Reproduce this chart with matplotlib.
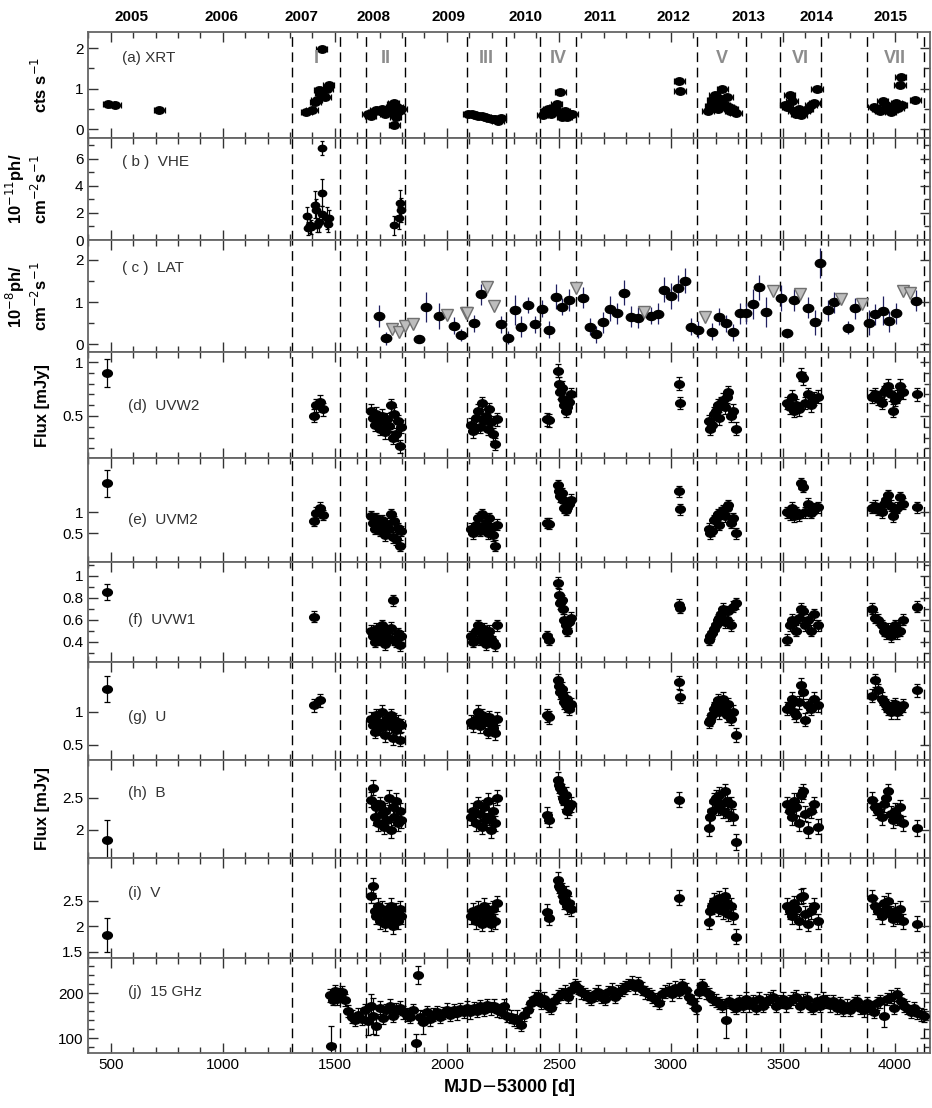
import numpy as np
import matplotlib.pyplot as plt
from matplotlib.path import Path
from matplotlib.transforms import Affine2D
from matplotlib.ticker import MultipleLocator, FixedLocator, FormatStrFormatter

plt.rcParams['font.family'] = ['Liberation Sans', 'DejaVu Sans']

nan = np.nan

# observing periods (MJD-53000)
periods = [(1310, 1524), (1640, 1814), (2092, 2263), (2416, 2577),
           (3117, 3334), (3488, 3669), (3874, 4127)]
period_names = ['I', 'II', 'III', 'IV', 'V', 'VI', 'VII']

years = ['2005', '2006', '2007', '2008', '2009', '2010',
         '2011', '2012', '2013', '2014', '2015']
year_pos = [595, 996, 1353, 1671, 2006, 2350, 2684, 3010, 3345, 3651, 3981]

# (a) Swift-XRT count rate
xrt_t = [490, 520, 716,
         1372, 1398, 1413, 1420, 1430, 1435, 1442, 1457, 1465, 1472,
         1648, 1660, 1672, 1684, 1700, 1712, 1725, 1740, 1752, 1758, 1762, 1765, 1768, 1772, 1778, 1785, 1795,
         2095, 2110, 2125, 2140, 2155, 2170, 2185, 2200, 2215, 2228, 2240,
         2428, 2440, 2452, 2465, 2480, 2490, 2500, 2506, 2515, 2525, 2535, 2548, 2560,
         3037, 3040,
         3165, 3175, 3185, 3195, 3205, 3212, 3222, 3230, 3240, 3250, 3258, 3265, 3275, 3290,
         3510, 3520, 3530, 3540, 3548, 3560, 3570, 3580, 3595, 3610, 3625, 3640, 3652,
         3905, 3920, 3935, 3945, 3960, 3970, 3980, 3990, 4005, 4015, 4022, 4025, 4030, 4090]
xrt_rate = [0.61, 0.60, 0.47,
            0.42, 0.48, 0.66, 0.72, 0.96, 0.88, 1.99, 0.80, 1.00, 1.10,
            0.38, 0.33, 0.42, 0.47, 0.45, 0.50, 0.38, 0.42, 0.55, 0.62, 0.65, 0.10, 0.48, 0.30, 0.55, 0.45, 0.50,
            0.37, 0.36, 0.35, 0.33, 0.32, 0.30, 0.28, 0.26, 0.25, 0.20, 0.28,
            0.35, 0.45, 0.50, 0.38, 0.55, 0.62, 0.42, 0.92, 0.30, 0.45, 0.30, 0.38, 0.38,
            1.19, 0.95,
            0.45, 0.58, 0.72, 0.85, 0.65, 0.50, 0.75, 1.00, 0.60, 0.80, 0.55, 0.45, 0.50, 0.40,
            0.60, 0.55, 0.85, 0.70, 0.45, 0.38, 0.50, 0.35, 0.45, 0.50, 0.60, 0.65, 0.98,
            0.55, 0.50, 0.45, 0.70, 0.60, 0.55, 0.42, 0.48, 0.65, 0.52, 1.08, 1.29, 0.60, 0.72]

# (b) VHE flux, 1e-11 ph cm-2 s-1
vhe_t = [1378, 1381, 1388, 1395, 1413, 1414, 1420, 1430, 1442, 1443, 1445, 1466, 1470, 1473,
         1762, 1787, 1790, 1795]
vhe_flux = [1.75, 0.85, 1.10, 0.95, 2.60, 2.20, 1.10, 1.30, 3.50, 6.80, 1.90, 1.60, 1.20, 1.60,
            1.10, 1.60, 2.70, 2.20]
vhe_err = [0.7, 0.5, 0.6, 0.5, 1.0, 0.8, 0.5, 0.7, 1.0, 0.5, 0.6, 0.8, 0.6, 0.6,
           0.7, 0.8, 1.0, 0.9]

# (c) Fermi-LAT flux, 1e-8 ph cm-2 s-1
lat_t = [1695, 1728, 1874, 1908, 1967, 2030, 2063, 2122, 2152, 2241, 2275, 2302, 2332, 2364,
         2394, 2424, 2454, 2487, 2516, 2546, 2607, 2637, 2666, 2696, 2726, 2759, 2789, 2821,
         2851, 2911, 2940, 2970, 3000, 3031, 3061, 3090, 3122, 3185, 3215, 3245, 3276, 3306,
         3336, 3366, 3395, 3425, 3491, 3520, 3547, 3610, 3641, 3666, 3700, 3729, 3790, 3822,
         3882, 3911, 3946, 3975, 4005, 4094]
lat_flux = [0.67, 0.14, 0.13, 0.88, 0.67, 0.44, 0.22, 0.50, 1.18, 0.47, 0.16, 0.81, 0.42, 0.93,
            0.47, 0.84, 0.34, 1.13, 0.89, 1.05, 1.10, 0.42, 0.24, 0.52, 0.84, 0.73, 1.22, 0.65,
            0.63, 0.68, 0.72, 1.29, 1.14, 1.33, 1.51, 0.42, 0.34, 0.30, 0.65, 0.50, 0.28, 0.73,
            0.73, 0.95, 1.35, 0.77, 1.10, 0.26, 1.05, 0.87, 0.52, 1.92, 0.81, 0.99, 0.39, 0.85,
            0.51, 0.71, 0.80, 0.55, 0.73, 1.03]
lat_err = [0.25, 0.15, 0.10, 0.35, 0.30, 0.20, 0.15, 0.20, 0.25, 0.20, 0.15, 0.35, 0.25, 0.20,
           0.20, 0.20, 0.20, 0.30, 0.20, 0.25, 0.25, 0.20, 0.20, 0.25, 0.30, 0.25, 0.30, 0.25,
           0.25, 0.20, 0.25, 0.30, 0.30, 0.30, 0.30, 0.20, 0.20, 0.20, 0.20, 0.20, 0.20, 0.25,
           0.25, 0.35, 0.30, 0.35, 0.30, 0.10, 0.25, 0.25, 0.30, 0.35, 0.25, 0.25, 0.15, 0.25,
           0.30, 0.25, 0.35, 0.25, 0.25, 0.25]
lat_ul_t = [1755, 1787, 1814, 1849, 2000, 2086, 2092, 2181, 2211, 2577, 2881, 3153, 3455,
            3577, 3758, 3852, 4035, 4068]
lat_ul = [0.36, 0.28, 0.44, 0.47, 0.69, 0.73, 0.73, 1.36, 0.91, 1.33, 0.76, 0.65, 1.26,
          1.18, 1.07, 0.95, 1.26, 1.21]

# UVOT / optical epochs (MJD-53000); nan marks a filter without data at that epoch
uv_t = [485,
        1405, 1418, 1432, 1448,
        1662, 1670, 1678, 1686, 1694, 1702, 1710, 1718, 1726, 1734, 1742, 1750, 1758, 1766, 1774, 1782, 1790, 1797,
        2108, 2118, 2128, 2138, 2148, 2158, 2166, 2174, 2182, 2190, 2198, 2206, 2214, 2224,
        2448, 2458, 2494, 2500, 2506, 2512, 2518, 2524, 2530, 2538, 2546, 2555,
        3036, 3041,
        3168, 3176, 3184, 3192, 3200, 3208, 3216, 3224, 3232, 3240, 3248, 3256, 3266, 3278, 3292,
        3520, 3530, 3540, 3550, 3560, 3570, 3580, 3590, 3600, 3612, 3625, 3640, 3655,
        3895, 3910, 3925, 3940, 3950, 3960, 3970, 3980, 3990, 4000, 4010, 4020, 4035, 4100]

uvw2 = [0.90,
        0.50, 0.60, 0.63, 0.56,
        0.55, 0.48, 0.42, 0.52, 0.45, 0.38, 0.50, 0.44, 0.35, 0.47, 0.41, 0.60, 0.30, 0.52, 0.33, 0.45, 0.22, 0.40,
        0.42, 0.36, 0.48, 0.55, 0.40, 0.62, 0.45, 0.50, 0.38, 0.56, 0.44, 0.33, 0.24, 0.47,
        0.47, 0.46, 0.92, 0.80, 0.72, 0.76, 0.66, 0.60, 0.55, 0.58, 0.63, 0.70,
        0.80, 0.62,
        0.45, 0.38, 0.42, 0.52, 0.55, 0.60, 0.48, 0.62, 0.65, 0.58, 0.68, 0.72, 0.50, 0.55, 0.38,
        0.62, 0.58, 0.68, 0.55, 0.60, 0.56, 0.88, 0.85, 0.62, 0.70, 0.60, 0.66, 0.68,
        0.68, 0.70, 0.66, 0.62, 0.72, 0.75, 0.78, 0.70, 0.55, 0.65, 0.68, 0.78, 0.72, 0.70]

uvm2 = [1.69,
        0.79, 0.98, 1.10, 0.93,
        0.90, 0.75, 0.60, 0.85, 0.70, 0.55, 0.80, 0.65, 0.45, 0.72, 0.60, 0.95, 0.40, 0.78, 0.35, 0.62, 0.20, 0.55,
        0.60, 0.50, 0.70, 0.85, 0.55, 0.95, 0.65, 0.75, 0.50, 0.85, 0.62, 0.45, 0.20, 0.70,
        0.74, 0.72, 1.64, 1.50, 1.38, 1.45, 1.28, 1.10, 1.05, 1.12, 1.20, 1.30,
        1.50, 1.07,
        0.60, 0.50, 0.55, 0.80, 0.85, 0.95, 0.70, 1.00, 1.05, 0.90, 1.10, 1.17, 0.75, 0.85, 0.50,
        1.00, 0.95, 1.10, 0.90, 1.00, 0.92, 1.69, 1.60, 1.00, 1.20, 0.98, 1.08, 1.12,
        1.10, 1.15, 1.05, 1.00, 1.20, 1.30, 1.40, 1.15, 0.90, 1.05, 1.10, 1.35, 1.20, 1.12]

uvw1 = [0.855,
        0.63, nan, nan, nan,
        0.50, 0.45, 0.40, 0.52, 0.47, 0.42, 0.55, 0.48, 0.38, 0.50, 0.44, 0.53, 0.78, 0.42, 0.40, 0.48, 0.37, 0.45,
        0.45, 0.40, 0.50, 0.55, 0.42, 0.48, 0.52, 0.38, 0.45, 0.50, 0.43, 0.40, 0.37, 0.55,
        0.45, 0.42, 0.94, 0.83, 0.75, 0.78, 0.70, 0.60, 0.55, 0.50, 0.58, 0.62,
        0.74, 0.71,
        0.42, 0.45, 0.48, 0.52, 0.55, 0.60, 0.62, 0.65, 0.70, 0.58, 0.60, 0.68, 0.55, 0.72, 0.75,
        0.42, 0.55, 0.60, 0.58, 0.50, 0.62, 0.70, 0.68, 0.55, 0.60, 0.50, 0.65, 0.55,
        0.70, 0.62, 0.60, 0.55, 0.50, 0.48, 0.52, 0.45, 0.50, 0.55, 0.48, 0.50, 0.60, 0.72]

u_band = [1.35,
          1.10, nan, 1.18, nan,
          0.90, 0.80, 0.70, 0.95, 0.85, 0.75, 1.00, 0.82, 0.65, 0.90, 0.78, 0.95, 0.60, 0.88, 0.72, 0.85, 0.58, 0.80,
          0.85, 0.80, 0.90, 1.00, 0.78, 0.95, 0.85, 0.88, 0.70, 0.92, 0.82, 0.75, 0.68, 0.90,
          0.95, 0.92, 1.48, 1.40, 1.30, 1.35, 1.25, 1.15, 1.10, 1.20, 1.05, 1.12,
          1.45, 1.23,
          0.85, 0.88, 0.95, 1.05, 1.10, 1.18, 1.00, 1.15, 1.20, 1.05, 0.95, 1.12, 0.90, 1.00, 0.65,
          1.05, 1.10, 1.20, 1.00, 0.95, 1.15, 1.41, 1.30, 0.88, 1.10, 1.05, 1.20, 1.10,
          1.25, 1.48, 1.33, 1.20, 1.15, 1.10, 1.05, 1.00, 1.08, 1.12, 1.00, 1.05, 1.10, 1.33]

b_band = [1.84,
          nan, nan, nan, nan,
          2.47, 2.66, 2.20, 2.35, 2.10, 2.40, 2.25, 2.05, 2.30, 2.15, 2.50, 2.00, 2.35, 2.20, 2.45, 2.10, 2.30, 2.15,
          2.20, 2.30, 2.10, 2.40, 2.25, 2.05, 2.35, 2.15, 2.45, 2.20, 2.00, 2.30, 2.10, 2.50,
          2.23, 2.16, 2.78, 2.70, 2.65, 2.60, 2.50, 2.45, 2.55, 2.30, 2.35, 2.40,
          2.47, nan,
          2.03, 2.20, 2.30, 2.45, 2.50, 2.35, 2.55, 2.40, 2.30, 2.60, 2.45, 2.25, 2.40, 2.20, 1.81,
          2.40, 2.30, 2.20, 2.45, 2.35, 2.10, 2.55, 2.60, 2.25, 2.00, 2.30, 2.40, 2.05,
          2.47, 2.35, 2.30, 2.20, 2.40, 2.50, 2.60, 2.25, 2.15, 2.30, 2.20, 2.35, 2.10, 2.03]

v_band = [1.83,
          nan, nan, nan, nan,
          2.60, 2.80, 2.30, 2.20, 2.40, 2.10, 2.35, 2.25, 2.05, 2.30, 2.15, 2.40, 2.00, 2.25, 2.30, 2.10, 2.35, 2.20,
          2.20, 2.30, 2.10, 2.35, 2.25, 2.05, 2.40, 2.15, 2.30, 2.20, 2.05, 2.35, 2.10, 2.45,
          2.28, 2.17, 2.91, 2.80, 2.75, 2.70, 2.60, 2.50, 2.65, 2.40, 2.45, 2.35,
          2.56, nan,
          2.09, 2.30, 2.40, 2.50, 2.45, 2.35, 2.55, 2.40, 2.30, 2.60, 2.45, 2.25, 2.40, 2.20, 1.80,
          2.40, 2.30, 2.20, 2.45, 2.35, 2.10, 2.58, 2.60, 2.25, 2.05, 2.30, 2.40, 2.10,
          2.56, 2.40, 2.30, 2.20, 2.45, 2.35, 2.50, 2.25, 2.15, 2.30, 2.20, 2.35, 2.10, 2.05]

# typical flux errors per filter: (2005 epoch, later epochs)
uv_err = {'uvw2': (0.13, 0.06), 'uvm2': (0.32, 0.13), 'uvw1': (0.07, 0.05),
          'u': (0.20, 0.10), 'b': (0.32, 0.12), 'v': (0.33, 0.15)}

# 15 GHz radio flux
radio_t = [1478, 1485, 1490, 1500, 1510, 1520, 1530, 1545, 1560, 1575, 1590, 1605, 1620, 1635,
           1650, 1660, 1672, 1685, 1700, 1715, 1730, 1745, 1760, 1775, 1790, 1805, 1820, 1835,
           1850, 1862, 1870, 1880, 1895, 1910, 1925, 1940, 1955, 1970, 1985, 2000, 2015, 2030,
           2045, 2060, 2075, 2090, 2105, 2120, 2135, 2150, 2165, 2180, 2195, 2210, 2225, 2240,
           2255, 2270, 2285, 2300, 2315, 2330, 2345, 2360, 2375, 2390, 2405, 2420, 2435, 2450,
           2465, 2480, 2495, 2510, 2525, 2540, 2555, 2570, 2585, 2600, 2615, 2630, 2645, 2660,
           2675, 2690, 2705, 2720, 2735, 2750, 2765, 2780, 2795, 2810, 2825, 2840, 2855, 2870,
           2885, 2900, 2915, 2930, 2945, 2960, 2975, 2990, 3005, 3020, 3035, 3050, 3065, 3080,
           3095, 3110, 3125, 3140, 3155, 3170, 3185, 3200, 3215, 3230, 3245, 3260, 3275, 3290,
           3305, 3320, 3335, 3350, 3365, 3380, 3395, 3410, 3425, 3440, 3455, 3470, 3485, 3500,
           3515, 3530, 3545, 3560, 3575, 3590, 3605, 3620, 3635, 3650, 3665, 3680, 3695, 3710,
           3725, 3740, 3755, 3770, 3785, 3800, 3815, 3830, 3845, 3860, 3875, 3890, 3905, 3920,
           3935, 3950, 3965, 3980, 3995, 4010, 4025, 4040, 4055, 4070, 4085, 4100, 4115, 4130]
radio_flux = [195, 82, 185, 205, 188, 198, 202, 185, 160, 148, 140, 152, 143, 162,
              138, 172, 150, 128, 168, 145, 162, 172, 150, 163, 168, 157, 152, 148,
              162, 90, 240, 148, 135, 158, 142, 152, 158, 147, 156, 163, 152, 162,
              155, 165, 158, 168, 157, 167, 160, 171, 163, 173, 166, 172, 162, 158,
              172, 150, 148, 140, 142, 130, 152, 162, 178, 188, 193, 178, 188, 172,
              168, 183, 192, 198, 203, 192, 208, 218, 212, 202, 198, 192, 188, 197,
              203, 192, 188, 202, 208, 192, 203, 208, 213, 218, 223, 213, 222, 210,
              202, 198, 192, 186, 178, 197, 203, 208, 197, 212, 203, 218, 208, 192,
              182, 168, 203, 218, 202, 198, 188, 183, 178, 172, 140, 182, 172, 168,
              182, 172, 188, 173, 182, 168, 188, 172, 183, 188, 192, 172, 182, 188,
              173, 182, 188, 192, 172, 183, 188, 172, 168, 183, 172, 188, 182, 173,
              182, 168, 177, 163, 172, 163, 177, 182, 168, 162, 177, 168, 158, 177,
              182, 150, 187, 192, 168, 197, 183, 172, 168, 158, 167, 156, 153, 150]
radio_err = [14, 45, 12, 14, 14, 14, 14, 14, 14, 14, 14, 14, 14, 14,
             30, 25, 40, 20, 14, 14, 14, 14, 14, 14, 14, 14, 14, 14,
             14, 20, 20, 14, 25, 14, 14, 14, 14, 14, 14, 14, 14, 14,
             14, 14, 14, 14, 14, 14, 14, 14, 14, 14, 14, 14, 14, 14,
             14, 14, 14, 14, 20, 15, 14, 14, 14, 14, 14, 14, 14, 14,
             14, 14, 14, 14, 14, 14, 14, 14, 14, 14, 14, 14, 14, 14,
             14, 14, 14, 14, 14, 14, 14, 14, 14, 14, 14, 14, 14, 14,
             14, 14, 14, 14, 14, 14, 14, 14, 14, 14, 14, 14, 14, 14,
             14, 14, 14, 14, 14, 14, 14, 14, 14, 14, 40, 14, 14, 14,
             14, 14, 14, 14, 14, 14, 14, 14, 14, 14, 14, 14, 14, 14,
             14, 14, 14, 14, 14, 14, 14, 14, 14, 14, 14, 14, 14, 14,
             14, 14, 14, 14, 14, 14, 14, 14, 14, 14, 14, 14, 14, 14,
             14, 25, 14, 14, 14, 14, 14, 14, 14, 14, 14, 14, 14, 14]

W, H = 932, 1108
X_LEFT, X_RIGHT = 88.3, 930.0
XLIM = (400, 4156)
rows = [(31.7, 138.3), (138.3, 240.0), (240.0, 352.3), (352.3, 458.0), (458.0, 562.0),
        (562.0, 662.0), (662.0, 760.0), (760.0, 858.0), (858.0, 958.0), (958.0, 1053.0)]

ell = Path.unit_circle().transformed(Affine2D().scale(1.3, 1.0))

fig = plt.figure(figsize=(W / 100, H / 100), dpi=100)
axes = []
for i, (top, bot) in enumerate(rows):
    ax = fig.add_axes([X_LEFT / W, 1 - bot / H, (X_RIGHT - X_LEFT) / W, (bot - top) / H])
    ax.set_xlim(*XLIM)
    ax.xaxis.set_major_locator(MultipleLocator(500))
    ax.xaxis.set_minor_locator(MultipleLocator(100))
    ax.yaxis.set_major_formatter(FormatStrFormatter('%g'))
    ax.tick_params(which='both', direction='in', top=True, right=True, labelsize=11,
                   color='#333333', width=1)
    ax.tick_params(which='major', length=7)
    ax.tick_params(which='minor', length=4)
    for s in ax.spines.values():
        s.set_color('#666666')
        s.set_linewidth(1.3)
    for a, b in periods:
        for xv in (a, b):
            ax.axvline(xv, color='k', lw=1.0, ls=(0, (7, 4)), zorder=1)
    if i < len(rows) - 1:
        ax.tick_params(labelbottom=False)
    axes.append(ax)

axa, axb, axc, axd, axe, axf, axg, axh, axi, axj = axes


def dots(ax, t, v, yerr=None, xerr=None, ms=7, cap=2.5):
    ax.errorbar(t, v, yerr=yerr, xerr=xerr, fmt='none', ecolor='k', elinewidth=0.9,
                capsize=cap, capthick=0.9, zorder=2)
    ax.plot(t, v, ls='none', marker=ell, ms=ms, color='k', zorder=3)


def panel_label(ax, text, yfrac, x=551):
    ax.text(x, yfrac, text, transform=ax.get_xaxis_transform(), fontsize=11,
            color='#333333', va='center')


def band_err(key, n):
    first, rest = uv_err[key]
    err = np.full(n, rest)
    err[0] = first
    return err


# (a) XRT
dots(axa, xrt_t, xrt_rate, yerr=0.04, xerr=25)
axa.set_ylim(-0.23, 2.41)
axa.yaxis.set_major_locator(FixedLocator([0, 1, 2]))
axa.yaxis.set_minor_locator(MultipleLocator(0.5))
axa.set_ylabel('cts s$^{-1}$', fontsize=12, fontweight='bold')
panel_label(axa, '(a) XRT', 0.75)
for (a, b), name in zip(periods, period_names):
    axa.text((a + b) / 2, 1.75, name, ha='center', va='center', fontsize=13,
             fontweight='bold', color='#8c8c8c')

# (b) VHE
dots(axb, vhe_t, vhe_flux, yerr=vhe_err, ms=6, cap=1.5)
axb.set_ylim(0, 7.5)
axb.yaxis.set_major_locator(FixedLocator([0, 2, 4, 6]))
axb.yaxis.set_minor_locator(MultipleLocator(1))
axb.set_ylabel('10$^{-11}$ph/\ncm$^{-2}$s$^{-1}$', fontsize=12, fontweight='bold')
panel_label(axb, '( b )  VHE', 0.77)

# (c) LAT with upper limits
axc.errorbar(lat_t, lat_flux, yerr=lat_err, fmt='none', ecolor='#202060', elinewidth=0.9, zorder=2)
axc.plot(lat_t, lat_flux, ls='none', marker=ell, ms=7.5, color='k', zorder=3)
axc.plot(lat_ul_t, lat_ul, ls='none', marker='v', ms=8, mfc='#bdbdbd', mec='#707070',
         mew=1, zorder=3)
axc.set_ylim(-0.19, 2.47)
axc.yaxis.set_major_locator(FixedLocator([0, 1, 2]))
axc.yaxis.set_minor_locator(MultipleLocator(0.5))
axc.set_ylabel('10$^{-8}$ph/\ncm$^{-2}$s$^{-1}$', fontsize=12, fontweight='bold')
panel_label(axc, '( c )  LAT', 0.75)

# (d)-(i) UVOT and optical bands
n_uv = len(uv_t)
bands = [
    (axd, uvw2, 'uvw2', (0.11, 1.09), [0.5, 1], 0.1, '(d)  UVW2', 0.49),
    (axe, uvm2, 'uvm2', (-0.19, 2.29), [0.5, 1], None, '(e)  UVM2', 0.40),
    (axf, uvw1, 'uvw1', (0.218, 1.127), [0.4, 0.6, 0.8, 1], 0.1, '(f)  UVW1', 0.42),
    (axg, u_band, 'u', (0.27, 1.76), [0.5, 1], None, '(g)  U', 0.44),
    (axh, b_band, 'b', (1.56, 3.09), [2, 2.5], None, '(h)  B', 0.66),
    (axi, v_band, 'v', (1.38, 3.34), [1.5, 2, 2.5], None, '(i)  V', 0.65),
]
for ax, flux, key, ylim, ticks, minor, lab, yf in bands:
    dots(ax, uv_t, flux, yerr=band_err(key, n_uv))
    ax.set_ylim(*ylim)
    ax.yaxis.set_major_locator(FixedLocator(ticks))
    if minor:
        ax.yaxis.set_minor_locator(MultipleLocator(minor))
    else:
        ax.yaxis.set_minor_locator(FixedLocator([]))
    panel_label(ax, lab, yf, x=575)
axd.set_ylabel('Flux [mJy]', fontsize=12, fontweight='bold')
axh.set_ylabel('Flux [mJy]', fontsize=12, fontweight='bold')

# (j) 15 GHz
dots(axj, radio_t, radio_flux, yerr=radio_err, ms=7, cap=2.5)
axj.set_ylim(67, 278)
axj.yaxis.set_major_locator(MultipleLocator(100))
axj.yaxis.set_minor_locator(MultipleLocator(20))
panel_label(axj, '(j)  15 GHz', 0.64, x=575)
axj.set_xlabel('MJD$-$53000 [d]', fontsize=13, fontweight='bold')

# calendar years along the top
for yr, xp in zip(years, year_pos):
    axa.text(xp, 1 + 8 / 106.6, yr, transform=axa.get_xaxis_transform(), ha='center',
             va='bottom', fontsize=11, fontweight='bold')

for ax in axes:
    ax.yaxis.set_label_coords(-0.045, 0.5)

fig.savefig('out.png', dpi=100)
